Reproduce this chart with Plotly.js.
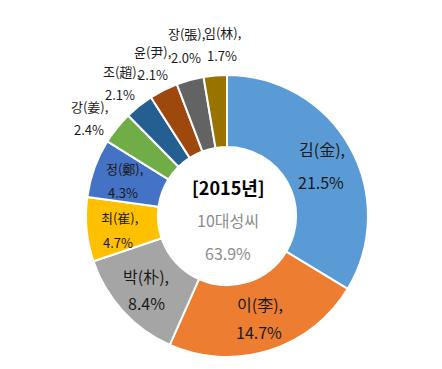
<!DOCTYPE html>
<html><head><meta charset="utf-8">
<script src="https://cdn.plot.ly/plotly-3.0.1.min.js"></script>
<style>body{margin:0;background:#fff}#c{width:442px;height:369px}</style>
</head><body><div id="c"></div>
<script>
const names = ['김(金)','이(李)','박(朴)','최(崔)','정(鄭)','강(姜)','조(趙)','윤(尹)','장(張)','임(林)'];
const shares = [21.5,14.7,8.4,4.7,4.3,2.4,2.1,2.1,2.0,1.7];
const colors = ['#5B9BD5','#ED7D31','#A5A5A5','#FFC000','#4472C4','#70AD47','#255E91','#9E480E','#636363','#997300'];
const centerTitle = '[2015년]';
const centerLabel = '10대성씨';
const centerTotal = '63.9%';

const W = 442, H = 369;
const font = '"Noto Sans CJK KR", sans-serif';
// label placement in pixels: [name x, name y, value x, value y]
const labelPos = [
  [322,149,321,182],
  [260,304,259,332],
  [146,276,146,303],
  [119,217,118,242],
  [124,169,123,193],
  [89,106,89,129],
  [121,71,120,95],
  [152,52,153,74],
  [186,33,186,57],
  [222,32,222,55]
];
const labelSize = [16,16,16,13,13,13,13,13,13,13];
const px = (x,y)=>({x:x/W, y:1-y/H});

const annotations = [];
function addText(p, text, size, color){
  annotations.push({x:p.x,y:p.y,xref:'paper',yref:'paper',text:text,showarrow:false,
    font:{family:font,size:size,color:color},xanchor:'center',yanchor:'middle'});
}
names.forEach((n,i)=>{
  const p = labelPos[i];
  addText(px(p[0],p[1]), n+',', labelSize[i], '#1a1a1a');
  addText(px(p[2],p[3]), shares[i].toFixed(1)+'%', labelSize[i], '#1a1a1a');
});
addText(px(228,187), '<b>'+centerTitle+'</b>', 18, '#000');
addText(px(228,220), centerLabel, 16, '#8c8c8c');
addText(px(228,253), centerTotal, 16, '#8c8c8c');

Plotly.newPlot('c',[{
  type:'pie', labels:names, values:shares, sort:false, direction:'clockwise', rotation:0,
  hole:0.49, marker:{colors:colors, line:{color:'#fff',width:2}},
  textinfo:'none',
  domain:{x:[86/W,368/W],y:[1-357/H,1-75/H]}, showlegend:false, hoverinfo:'none'
}],{
  width:W,height:H,margin:{l:0,r:0,t:0,b:0},paper_bgcolor:'#fff',
  annotations:annotations
},{staticPlot:true});
</script></body></html>
